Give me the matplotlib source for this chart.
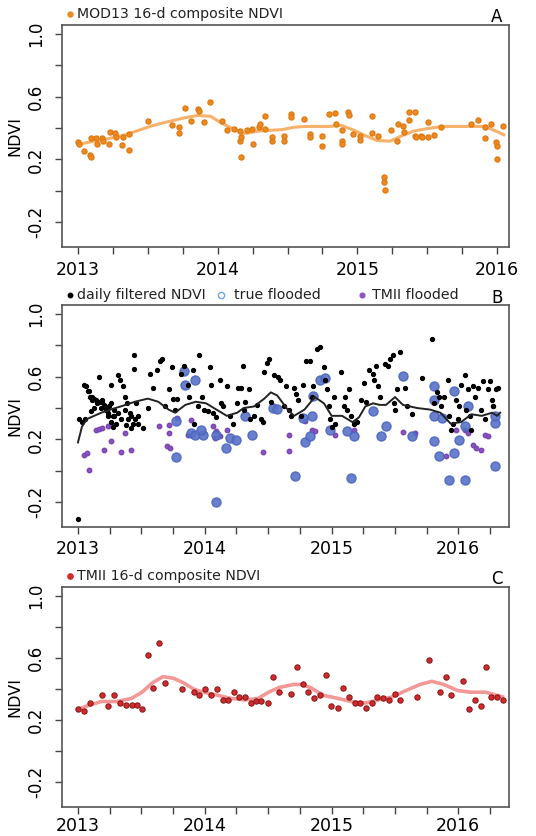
import matplotlib
matplotlib.use("Agg")
import matplotlib.pyplot as plt
import numpy as np

plt.rcParams['font.family'] = ['DejaVu Sans']

# ---------------- Panel A: MOD13 16-day composite NDVI ----------------
mod13_t = [2013.000, 2013.007, 2013.046, 2013.089, 2013.094, 2013.094, 2013.130, 2013.138,
           2013.174, 2013.177, 2013.221, 2013.227, 2013.268, 2013.273, 2013.314, 2013.319,
           2013.362, 2013.362, 2013.499, 2013.676, 2013.720, 2013.720, 2013.767, 2013.809,
           2013.856, 2013.863, 2013.900, 2013.947, 2014.028, 2014.067, 2014.117, 2014.160,
           2014.163, 2014.165, 2014.165, 2014.207, 2014.251, 2014.248, 2014.298, 2014.301,
           2014.342, 2014.342, 2014.386, 2014.386, 2014.473, 2014.473, 2014.526, 2014.526,
           2014.617, 2014.661, 2014.661, 2014.750, 2014.750, 2014.797, 2014.842, 2014.846,
           2014.888, 2014.888, 2014.888, 2014.932, 2014.937, 2014.971, 2015.021, 2015.021,
           2015.104, 2015.104, 2015.147, 2015.190, 2015.193, 2015.195, 2015.239, 2015.281,
           2015.289, 2015.326, 2015.333, 2015.367, 2015.372, 2015.414, 2015.414, 2015.418,
           2015.459, 2015.463, 2015.507, 2015.507, 2015.551, 2015.596, 2015.817, 2015.866,
           2015.911, 2015.911, 2015.955, 2015.994, 2016.001, 2016.003, 2016.044]
mod13_v = [0.310, 0.295, 0.256, 0.230, 0.218, 0.338, 0.338, 0.295,
           0.338, 0.320, 0.295, 0.374, 0.368, 0.340, 0.293, 0.340,
           0.260, 0.363, 0.442, 0.417, 0.406, 0.368, 0.528, 0.442,
           0.524, 0.506, 0.438, 0.566, 0.442, 0.385, 0.395, 0.380,
           0.320, 0.214, 0.340, 0.385, 0.300, 0.395, 0.406, 0.427,
           0.395, 0.474, 0.340, 0.320, 0.350, 0.320, 0.490, 0.470,
           0.457, 0.363, 0.340, 0.346, 0.282, 0.490, 0.495, 0.427,
           0.389, 0.320, 0.300, 0.500, 0.483, 0.363, 0.350, 0.325,
           0.474, 0.368, 0.346, 0.085, 0.053, 0.004, 0.389, 0.316,
           0.427, 0.410, 0.374, 0.502, 0.453, 0.502, 0.350, 0.340,
           0.350, 0.340, 0.438, 0.340, 0.357, 0.406, 0.427, 0.453,
           0.406, 0.338, 0.427, 0.310, 0.288, 0.203, 0.410]

mod13_fit_t = [2013.000, 2013.082, 2013.175, 2013.258, 2013.340, 2013.433, 2013.515, 2013.597,
               2013.690, 2013.773, 2013.855, 2013.948, 2014.030, 2014.112, 2014.185, 2014.288,
               2014.370, 2014.463, 2014.545, 2014.627, 2014.720, 2014.803, 2014.885, 2014.978,
               2015.060, 2015.142, 2015.235, 2015.318, 2015.400, 2015.493, 2015.575, 2015.657,
               2015.750, 2015.833, 2015.915, 2016.008, 2016.049]
mod13_fit_v = [0.295, 0.310, 0.325, 0.340, 0.357, 0.385, 0.410, 0.430,
               0.450, 0.467, 0.480, 0.475, 0.430, 0.395, 0.363, 0.380,
               0.385, 0.390, 0.405, 0.410, 0.410, 0.410, 0.417, 0.385,
               0.350, 0.320, 0.316, 0.350, 0.380, 0.395, 0.406, 0.410,
               0.410, 0.410, 0.410, 0.374, 0.357]

# ---------------- Panel B: daily filtered NDVI (years since 1 Jan 2013) ----------------
daily_dt = [0.000, 0.010, 0.046, 0.067, 0.078, 0.094, 0.112, 0.126, 0.153, 0.166,
            0.180, 0.193, 0.206, 0.228, 0.239, 0.260, 0.274, 0.287, 0.260, 0.313,
            0.335, 0.354, 0.373, 0.389, 0.407, 0.421, 0.442, 0.445, 0.461, 0.475,
            0.515, 0.549, 0.569, 0.595, 0.622, 0.649, 0.663, 0.689, 0.716, 0.743,
            0.748, 0.765, 0.783, 0.810, 0.837, 0.864, 0.877, 0.904, 0.917, 0.944,
            0.958, 0.979, 0.998, 1.024, 1.043, 1.052, 1.065, 1.091, 1.118, 1.131,
            1.146, 1.172, 1.199, 1.225, 1.253, 1.266, 1.284, 1.301, 1.306, 1.319,
            1.347, 1.360, 1.387, 1.413, 1.441, 1.462, 1.467, 1.494, 1.507, 1.520,
            1.548, 1.579, 1.596, 1.627, 1.642, 1.668, 1.682, 1.703, 1.721, 1.736,
            1.762, 1.776, 1.802, 1.829, 1.843, 1.856, 1.883, 1.909, 1.937, 1.950,
            1.963, 1.977, 1.990, 2.003, 2.016, 2.030, 2.071, 2.097, 2.110, 2.124,
            2.138, 2.151, 2.178, 2.204, 2.231, 2.258, 2.272, 2.298, 2.325, 2.338,
            2.352, 2.366, 2.379, 2.419, 2.446, 2.460, 2.486, 2.491, 2.499, 2.513,
            2.539, 2.580, 2.593, 2.633, 2.714, 2.794, 2.808, 2.834, 2.849, 2.862,
            2.888, 2.915, 2.928, 2.942, 2.956, 2.982, 2.996, 3.009, 3.022, 3.050,
            3.063, 3.076, 3.090, 3.103, 3.116, 3.129, 3.157, 3.183, 3.197, 3.210,
            3.238, 3.264, 3.277, 3.317, 0.086, 0.112, 0.140, 0.166, 0.193, 0.206,
            0.220, 0.233, 0.247, 0.260, 0.274, 0.287, 0.300, 0.313, 0.341, 0.368,
            0.381, 0.394, 0.421, 0.435, 0.448, 0.475, 0.099, 0.059, 0.033, 0.126,
            3.300, 3.250, 3.270]
daily_v = [-0.31, 0.33, 0.55, 0.54, 0.51, 0.47, 0.45, 0.46, 0.43, 0.60,
           0.40, 0.44, 0.41, 0.39, 0.35, 0.31, 0.28, 0.35, 0.55, 0.61,
           0.58, 0.54, 0.47, 0.43, 0.37, 0.35, 0.74, 0.65, 0.43, 0.30,
           0.27, 0.40, 0.62, 0.53, 0.64, 0.70, 0.71, 0.41, 0.52, 0.66,
           0.46, 0.39, 0.46, 0.62, 0.67, 0.55, 0.47, 0.64, 0.30, 0.41,
           0.74, 0.47, 0.39, 0.38, 0.66, 0.55, 0.37, 0.34, 0.58, 0.43,
           0.41, 0.54, 0.35, 0.30, 0.43, 0.53, 0.53, 0.67, 0.39, 0.44,
           0.52, 0.33, 0.35, 0.42, 0.33, 0.31, 0.63, 0.69, 0.71, 0.44,
           0.61, 0.60, 0.58, 0.41, 0.54, 0.39, 0.35, 0.53, 0.49, 0.45,
           0.35, 0.55, 0.70, 0.70, 0.47, 0.54, 0.78, 0.79, 0.66, 0.58,
           0.52, 0.41, 0.33, 0.28, 0.47, 0.30, 0.63, 0.41, 0.47, 0.39,
           0.52, 0.35, 0.30, 0.31, 0.45, 0.56, 0.44, 0.64, 0.62, 0.58,
           0.67, 0.54, 0.47, 0.68, 0.67, 0.71, 0.74, 0.43, 0.39, 0.52,
           0.76, 0.53, 0.41, 0.36, 0.59, 0.84, 0.43, 0.50, 0.47, 0.41,
           0.47, 0.58, 0.35, 0.26, 0.30, 0.45, 0.33, 0.41, 0.55, 0.61,
           0.39, 0.52, 0.35, 0.26, 0.54, 0.47, 0.53, 0.39, 0.57, 0.33,
           0.52, 0.45, 0.41, 0.53, 0.51, 0.47, 0.45, 0.44, 0.45, 0.42,
           0.39, 0.37, 0.41, 0.43, 0.35, 0.39, 0.30, 0.37, 0.33, 0.39,
           0.29, 0.33, 0.27, 0.30, 0.33, 0.35, 0.38, 0.33, 0.31, 0.40,
           0.52, 0.57, 0.41]

daily_fit_t = [2013.000, 2013.031, 2013.071, 2013.184, 2013.255, 2013.337, 2013.449, 2013.551,
               2013.633, 2013.715, 2013.766, 2013.847, 2013.929, 2014.011, 2014.092, 2014.174,
               2014.256, 2014.307, 2014.389, 2014.470, 2014.521, 2014.572, 2014.654, 2014.705,
               2014.787, 2014.868, 2014.940, 2015.001, 2015.083, 2015.165, 2015.216, 2015.267,
               2015.328, 2015.379, 2015.430, 2015.501, 2015.563, 2015.675, 2015.777, 2015.859,
               2015.940, 2016.022, 2016.104, 2016.185, 2016.267, 2016.307, 2016.330]
daily_fit_v = [0.18, 0.28, 0.33, 0.37, 0.39, 0.41, 0.44, 0.46,
               0.44, 0.39, 0.37, 0.42, 0.44, 0.43, 0.39, 0.35,
               0.37, 0.40, 0.41, 0.46, 0.50, 0.48, 0.39, 0.35,
               0.39, 0.47, 0.43, 0.35, 0.35, 0.31, 0.34, 0.41,
               0.43, 0.42, 0.42, 0.47, 0.42, 0.40, 0.39, 0.37,
               0.30, 0.31, 0.36, 0.35, 0.37, 0.35, 0.37]

# true flooded observations (years since 1 Jan 2013)
true_dt = [0.770, 0.770, 0.837, 0.844, 0.925, 0.890, 0.925, 0.984, 0.971, 1.091,
           1.167, 1.199, 1.247, 1.091, 1.373, 1.319, 1.542, 1.569, 1.708, 1.776,
           1.789, 1.829, 1.843, 1.856, 1.909, 1.950, 1.990, 2.151, 2.124, 2.178,
           2.325, 2.392, 2.432, 2.562, 2.633, 2.808, 2.808, 2.808, 2.808, 2.849,
           2.875, 2.928, 2.969, 2.969, 3.009, 3.050, 3.055, 3.076, 3.291, 3.291,
           3.291]
true_v = [0.315, 0.087, 0.634, 0.549, 0.581, 0.240, 0.226, 0.230, 0.260, 0.230,
          0.145, 0.209, 0.198, -0.200, 0.226, 0.347, 0.400, 0.394, -0.032, 0.336,
          0.181, 0.219, 0.347, 0.474, 0.581, 0.591, 0.262, -0.047, 0.251, 0.219,
          0.379, 0.219, 0.283, 0.602, 0.219, 0.538, 0.453, 0.347, 0.187, 0.091,
          0.336, -0.062, 0.506, 0.113, 0.198, 0.283, -0.057, 0.411, 0.304, 0.347,
          0.028]

# TMII flooded observations (years since 1 Jan 2013)
tmii_fl_dt = [0.046, 0.072, 0.086, 0.140, 0.166, 0.193, 0.206, 0.233, 0.260, 0.260,
              0.341, 0.368, 0.421, 0.636, 0.702, 0.716, 0.729, 0.716, 0.783, 0.890,
              0.864, 1.078, 1.091, 1.065, 1.118, 1.172, 1.462, 1.668, 1.668, 1.789,
              1.843, 1.869, 2.030, 2.178, 2.661, 2.567, 2.902, 2.982, 3.050, 3.076,
              3.116, 3.143, 3.183, 3.210, 3.238]
tmii_fl_v = [0.102, 0.113, 0.006, 0.262, 0.266, 0.272, 0.134, 0.283, 0.187, 0.294,
             0.117, 0.240, 0.130, 0.283, 0.155, 0.240, 0.145, 0.294, 0.336, 0.326,
             0.230, 0.209, 0.251, 0.283, 0.219, 0.262, 0.117, 0.230, 0.123, 0.315,
             0.262, 0.251, 0.230, 0.262, 0.240, 0.245, 0.091, 0.262, 0.262, 0.240,
             0.166, 0.145, 0.134, 0.230, 0.219]

# ---------------- Panel C: TMII 16-day composite NDVI ----------------
tmii_t = [2013.000, 2013.046, 2013.095, 2013.190, 2013.236, 2013.281, 2013.330, 2013.376,
          2013.424, 2013.466, 2013.505, 2013.552, 2013.595, 2013.641, 2013.687, 2013.824,
          2013.912, 2013.958, 2014.001, 2014.048, 2014.096, 2014.141, 2014.182, 2014.231,
          2014.272, 2014.318, 2014.367, 2014.407, 2014.447, 2014.499, 2014.542, 2014.588,
          2014.683, 2014.728, 2014.778, 2014.818, 2014.864, 2014.913, 2014.953, 2014.998,
          2015.048, 2015.089, 2015.134, 2015.184, 2015.225, 2015.270, 2015.318, 2015.359,
          2015.405, 2015.453, 2015.500, 2015.541, 2015.678, 2015.771, 2015.859, 2015.900,
          2015.946, 2016.041, 2016.084, 2016.131, 2016.177, 2016.220, 2016.260, 2016.306,
          2016.353]
tmii_v = [0.27, 0.26, 0.31, 0.36, 0.29, 0.36, 0.31, 0.30,
          0.30, 0.30, 0.27, 0.62, 0.41, 0.70, 0.44, 0.40,
          0.38, 0.36, 0.40, 0.36, 0.40, 0.33, 0.33, 0.38,
          0.35, 0.35, 0.31, 0.32, 0.32, 0.31, 0.48, 0.38,
          0.37, 0.54, 0.43, 0.38, 0.34, 0.36, 0.49, 0.29,
          0.28, 0.41, 0.35, 0.31, 0.31, 0.28, 0.31, 0.35,
          0.34, 0.33, 0.37, 0.33, 0.35, 0.59, 0.38, 0.48,
          0.36, 0.45, 0.27, 0.33, 0.29, 0.54, 0.35, 0.35,
          0.33]

tmii_fit_t = [2013.000, 2013.103, 2013.185, 2013.309, 2013.422, 2013.505, 2013.587, 2013.670,
              2013.752, 2013.834, 2013.912, 2013.989, 2014.102, 2014.205, 2014.318, 2014.421,
              2014.504, 2014.586, 2014.700, 2014.761, 2014.833, 2014.936, 2015.050, 2015.153,
              2015.266, 2015.369, 2015.482, 2015.585, 2015.699, 2015.791, 2015.884, 2015.997,
              2016.100, 2016.214, 2016.348]
tmii_fit_v = [0.27, 0.30, 0.32, 0.32, 0.34, 0.38, 0.44, 0.48,
              0.47, 0.44, 0.40, 0.38, 0.36, 0.34, 0.33, 0.34,
              0.38, 0.41, 0.43, 0.43, 0.41, 0.36, 0.34, 0.32,
              0.31, 0.33, 0.35, 0.39, 0.43, 0.45, 0.43, 0.39,
              0.38, 0.38, 0.35]

BASE_YEAR = 2013.0
y_ticks = [-0.2, 0.0, 0.2, 0.4, 0.6, 0.8, 1.0]
y_labels = ["-0.2", "", "0.2", "", "0.6", "", "1.0"]
year_ticks = [2013, 2014, 2015, 2016]

fig = plt.figure(figsize=(5.36, 8.36), dpi=100)
W, H = 536.0, 836.0


def make_axes(top_px, bottom_px, xlim, xpad):
    ax = fig.add_axes([62 / W, 1 - bottom_px / H, 447 / W, (bottom_px - top_px) / H])
    ax.set_xlim(*xlim)
    ax.set_ylim(-0.36, 1.058)
    ax.set_yticks(y_ticks)
    ax.set_yticklabels(y_labels, rotation=90, va="center", fontsize=12)
    ax.set_xticks(year_ticks)
    ax.set_xticklabels([str(y) for y in year_ticks], fontsize=12.5)
    quarters = np.arange(2013, xlim[1], 0.25)
    ax.set_xticks([q for q in quarters if q not in year_ticks], minor=True)
    ax.tick_params(axis="both", which="both", direction="out", length=5,
                   width=1.0, color="#444444")
    ax.tick_params(axis="x", which="major", pad=xpad)
    ax.tick_params(axis="y", which="major", pad=7)
    for s in ax.spines.values():
        s.set_color("#555555")
        s.set_linewidth(1.2)
    ax.set_ylabel("NDVI", fontsize=11.5)
    ax.yaxis.set_label_coords(-0.088, 0.5)
    return ax


def legend_entry(ax, x_mark, x_text, y, label, **marker_kw):
    ax.plot([x_mark], [y], transform=ax.transAxes, clip_on=False, linestyle="none",
            **marker_kw)
    ax.text(x_text, y, label, transform=ax.transAxes, fontsize=10.2, va="center",
            ha="left", color="#222222")


# Panel A
axA = make_axes(25, 247, (2012.885, 2016.086), 5)
axA.plot(mod13_fit_t, mod13_fit_v, color="#f6b26b", lw=2.2, zorder=2)
axA.plot(mod13_t, mod13_v, "o", color="#ee8a22", ms=3.6, mec="#e07b15", zorder=3)
legend_entry(axA, 0.018, 0.034, 1.05, "MOD13 16-d composite NDVI",
             marker="o", color="#ee8a22", ms=3.6)
axA.text(0.973, 1.036, "A", transform=axA.transAxes, fontsize=12, ha="center", va="center")

# Panel B
axB = make_axes(305, 527, (2012.874, 2016.40), 4)
axB.plot(BASE_YEAR + np.array(tmii_fl_dt), tmii_fl_v, "o", color="#8a55c0", ms=3.2,
         mec="#7a45b0", zorder=2)
axB.plot(BASE_YEAR + np.array(true_dt), true_v, "o", color="#5a72c8", ms=6.5,
         mec="#4a66bd", alpha=0.9, zorder=3)
axB.plot(BASE_YEAR + np.array(daily_dt), daily_v, "o", color="black", ms=2.8, zorder=4)
axB.plot(daily_fit_t, daily_fit_v, color="#222222", lw=1.4, zorder=5)
legend_entry(axB, 0.018, 0.034, 1.045, "daily filtered NDVI",
             marker="o", color="black", ms=3.2)
legend_entry(axB, 0.355, 0.385, 1.045, "true flooded",
             marker="o", mfc="none", mec="#6fa8dc", ms=4.5, mew=1.0)
legend_entry(axB, 0.672, 0.694, 1.045, "TMII flooded",
             marker="o", color="#8a55c0", ms=3.4)
axB.text(0.973, 1.03, "B", transform=axB.transAxes, fontsize=12, ha="center", va="center")

# Panel C
axC = make_axes(587, 807, (2012.874, 2016.40), 2)
axC.plot(tmii_fit_t, tmii_fit_v, color="#f28c8c", lw=2.6, alpha=0.9, zorder=2)
axC.plot(tmii_t, tmii_v, "o", color="#d42a2e", ms=3.8, mec="#8b1a1a", mew=0.8, zorder=3)
legend_entry(axC, 0.018, 0.034, 1.05, "TMII 16-d composite NDVI",
             marker="o", color="#d42a2e", ms=3.8)
axC.text(0.973, 1.036, "C", transform=axC.transAxes, fontsize=12, ha="center", va="center")

fig.savefig("out.png", dpi=100)
